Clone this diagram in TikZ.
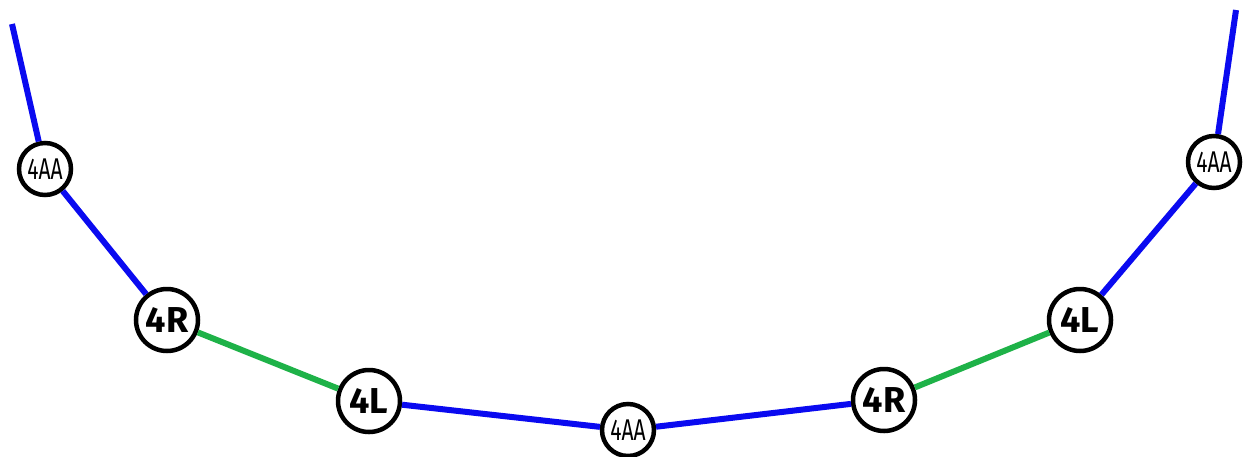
\documentclass[tikz,border=0pt]{standalone}
\usepackage{fontspec}
\setmainfont{Fira Sans}
\definecolor{lineblue}{RGB}{10,10,240}
\definecolor{linegreen}{RGB}{30,178,72}
\begin{document}
\begin{tikzpicture}[x=1pt,y=-1pt,
  stop/.style={circle,draw=black,line width=4.5pt,fill=white,inner sep=0pt},
  small/.style={stop,minimum size=52pt,font=\fontsize{30}{30}\selectfont},
  big/.style={stop,minimum size=62pt,font=\fontsize{36}{36}\selectfont\bfseries},
  blueline/.style={draw=lineblue,line width=6pt},
  greenline/.style={draw=linegreen,line width=6pt}]
\useasboundingbox (0,0) rectangle (1247,456);
% line ends leaving the picture
\coordinate (endL) at (12,24);
\coordinate (endR) at (1236,10);
% stations
\node[small] (aa1) at (45,169) {\scalebox{0.7}[1]{4AA}};
\node[big]   (r1)  at (167,320) {4R};
\node[big]   (l1)  at (369,401) {4L};
\node[small] (aa2) at (628,430) {\scalebox{0.7}[1]{4AA}};
\node[big]   (r2)  at (884,400) {4R};
\node[big]   (l2)  at (1080,320) {4L};
\node[small] (aa3) at (1214,162) {\scalebox{0.7}[1]{4AA}};
% connecting segments
\draw[blueline]  (endL) -- (aa1);
\draw[blueline]  (aa1) -- (r1);
\draw[greenline] (r1) -- (l1);
\draw[blueline]  (l1) -- (aa2);
\draw[blueline]  (aa2) -- (r2);
\draw[greenline] (r2) -- (l2);
\draw[blueline]  (l2) -- (aa3);
\draw[blueline]  (aa3) -- (endR);
\end{tikzpicture}
\end{document}
